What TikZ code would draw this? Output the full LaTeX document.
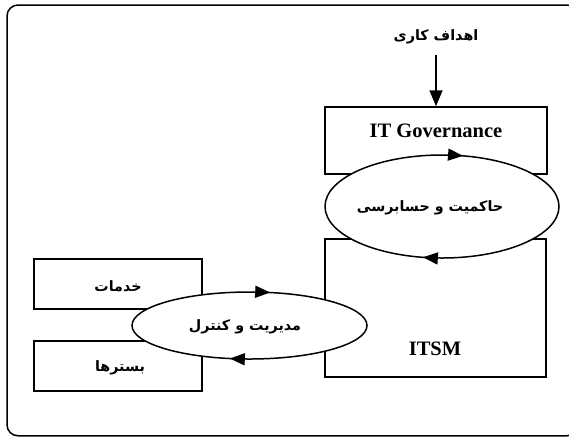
\documentclass[tikz,border=0pt]{standalone}
\usepackage{fontspec}
\setmainfont{Liberation Serif}
\newfontfamily\fa[Script=Arabic]{DejaVu Sans}
\TeXXeTstate=1
\usetikzlibrary{shapes.geometric,arrows.meta,decorations.markings}
\tikzset{
  box/.style={draw, line width=1.5pt, inner sep=0pt},
  oval/.style={ellipse, draw, line width=1.5pt, fill=white, inner sep=0pt},
  entxt/.style={font=\fontsize{20.5}{24}\bfseries\selectfont, inner sep=0pt},
  fatxt/.style={font=\fa\fontsize{14.3}{18}\bfseries\selectfont, inner sep=0pt},
  cyctip/.tip={Triangle[length=15pt,width=12pt]},
  cycle at/.style 2 args={postaction={decorate, decoration={markings,
     mark=at position #1 with {\arrowreversed{cyctip}},
     mark=at position #2 with {\arrowreversed{cyctip}}}}}
}
\begin{document}
\begin{tikzpicture}[x=1pt,y=-1pt]
\useasboundingbox (0,0) rectangle (569,437);
% outer frame
\draw[line width=1.5pt, rounded corners=11pt] (7,5) rectangle (578,435.8);
% boxes
\node[box, minimum width=222pt, minimum height=67pt] (gov) at (436,140.5) {};
\node[box, minimum width=221pt, minimum height=138pt] (itsm) at (435.5,308) {};
\node[box, minimum width=168pt, minimum height=50pt] (srv) at (118,284) {};
\node[box, minimum width=168pt, minimum height=50pt] (plat) at (118,366) {};
% box labels
\node[entxt] (govt) at (436,131) {IT Governance};
\node[entxt] (itsmt) at (435,349) {ITSM};
\node[fatxt] (srvt) at (118,286) {\beginR خدمات\endR};
\node[fatxt] (platt) at (120,368) {\beginR بسترها\endR};
% ovals
\node[oval, minimum width=234pt, minimum height=103pt, cycle at={0.2117}{0.7152}] (gova) at (442,206.5) {};
\node[fatxt] (govat) at (430,208) {\beginR حاکمیت و حسابرسی\endR};
\node[oval, minimum width=235pt, minimum height=67pt, cycle at={0.2096}{0.7116}] (mgmt) at (249.5,325.5) {};
\node[fatxt] (mgmtt) at (245,327) {\beginR مدیریت و کنترل\endR};
% goal
\node[fatxt] (goal) at (436,37) {\beginR اهداف کاری\endR};
\coordinate (goalend) at (436,55);
\draw[line width=1.5pt, -{Triangle[length=16pt,width=13pt]}] (goalend) -- (gov.north);
\end{tikzpicture}
\end{document}
